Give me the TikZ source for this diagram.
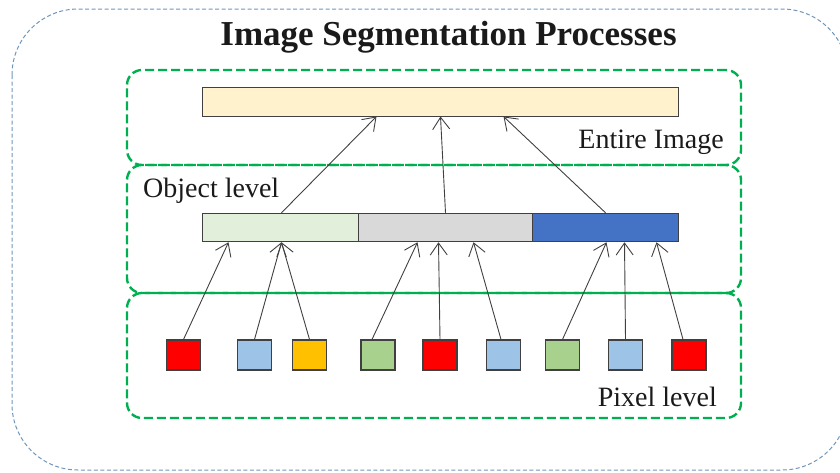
\documentclass[tikz,border=0pt]{standalone}
\usepackage{fontspec}
\setmainfont{Liberation Serif}
\usetikzlibrary{arrows.meta}
\definecolor{grpgreen}{HTML}{00B050}
\definecolor{outerblue}{HTML}{7095BA}
\definecolor{topfill}{HTML}{FFF2CC}
\definecolor{objgreen}{HTML}{E2EFDA}
\definecolor{objgrey}{HTML}{D9D9D9}
\definecolor{objblue}{HTML}{4472C4}
\definecolor{pxred}{HTML}{FF0000}
\definecolor{pxblue}{HTML}{9DC3E6}
\definecolor{pxyellow}{HTML}{FFC000}
\definecolor{pxgreen}{HTML}{A9D18E}
\definecolor{edge}{HTML}{404040}
\definecolor{txt}{HTML}{1A1A1A}
\begin{document}
\begin{tikzpicture}[x=1pt,y=-1pt,
  grp/.style={draw=grpgreen, line width=2.4pt, dash pattern=on 9pt off 4pt, rounded corners=15pt, inner sep=0pt},
  bar/.style={draw=edge, line width=1pt, inner sep=0pt, minimum height=28.5pt},
  px/.style={draw=edge, line width=1.1pt, inner sep=0pt, minimum width=34pt, minimum height=30pt},
  arr/.style={draw=edge, line width=0.9pt, -{Straight Barb[length=12pt,width=17pt,line width=0.9pt]}},
  lbl/.style={font=\fontsize{28}{33}\selectfont, text=txt, inner sep=0pt}
]
\useasboundingbox (0,0) rectangle (840,472);
\clip (0,0) rectangle (840,472);
% outer container
\draw[outerblue, line width=1pt, dash pattern=on 4pt off 2.5pt, rounded corners=66pt] (12,9) rectangle (848,470);
% title
\node[font=\fontsize{35}{42}\selectfont\bfseries, text=txt, anchor=base, inner sep=0pt] (title) at (448.5,45) {Image Segmentation Processes};
% group boxes
\node[grp, minimum width=614pt, minimum height=95pt] (g1) at (434,117.5) {};
\node[grp, minimum width=614pt, minimum height=128pt] (g2) at (434,229) {};
\node[grp, minimum width=614pt, minimum height=125pt] (g3) at (434,355.5) {};
% labels
\node[lbl, anchor=base east] (l1) at (724,148) {Entire Image};
\node[lbl, anchor=base west] (l2) at (143,197) {Object level};
\node[lbl, anchor=base east] (l3) at (717,406) {Pixel level};
% top bar
\node[bar, fill=topfill, minimum width=476pt, minimum height=29pt] (top) at (440,101.5) {};
% object bars
\node[bar, fill=objgreen, minimum width=156pt] (og) at (280,227.5) {};
\node[bar, fill=objgrey, minimum width=174pt] (oy) at (445,227.5) {};
\node[bar, fill=objblue, minimum width=146pt] (ob) at (605,227.5) {};
% pixels
\node[px, fill=pxred]    (p1) at (183.5,355) {};
\node[px, fill=pxblue]   (p2) at (254.5,355) {};
\node[px, fill=pxyellow] (p3) at (309.5,355) {};
\node[px, fill=pxgreen]  (p4) at (378,355) {};
\node[px, fill=pxred]    (p5) at (440,355) {};
\node[px, fill=pxblue]   (p6) at (503.5,355) {};
\node[px, fill=pxgreen]  (p7) at (562.5,355) {};
\node[px, fill=pxblue]   (p8) at (625.5,355) {};
\node[px, fill=pxred]    (p9) at (689,355) {};
% pixel -> object arrows
\draw[arr] (p1.north) -- ([xshift=27pt]og.south west);
\draw[arr] (p2.north) -- ([xshift=80pt]og.south west);
\draw[arr] (p3.north) -- ([xshift=80pt]og.south west);
\draw[arr] ([xshift=-6pt]p4.north) -- ([xshift=60pt]oy.south west);
\draw[arr] (p5.north) -- ([xshift=81pt]oy.south west);
\draw[arr] ([xshift=-2.5pt]p6.north) -- ([xshift=116pt]oy.south west);
\draw[arr] (p7.north) -- ([xshift=75pt]ob.south west);
\draw[arr] (p8.north) -- ([xshift=93pt]ob.south west);
\draw[arr] ([xshift=-6pt]p9.north) -- ([xshift=125pt]ob.south west);
% object -> entire image arrows
\draw[arr] ([xshift=80pt]og.north west) -- ([xshift=175pt]top.south west);
\draw[arr] ([xshift=88pt]oy.north west) -- ([xshift=239pt]top.south west);
\draw[arr] ([xshift=74pt]ob.north west) -- ([xshift=302pt]top.south west);
\end{tikzpicture}
\end{document}
